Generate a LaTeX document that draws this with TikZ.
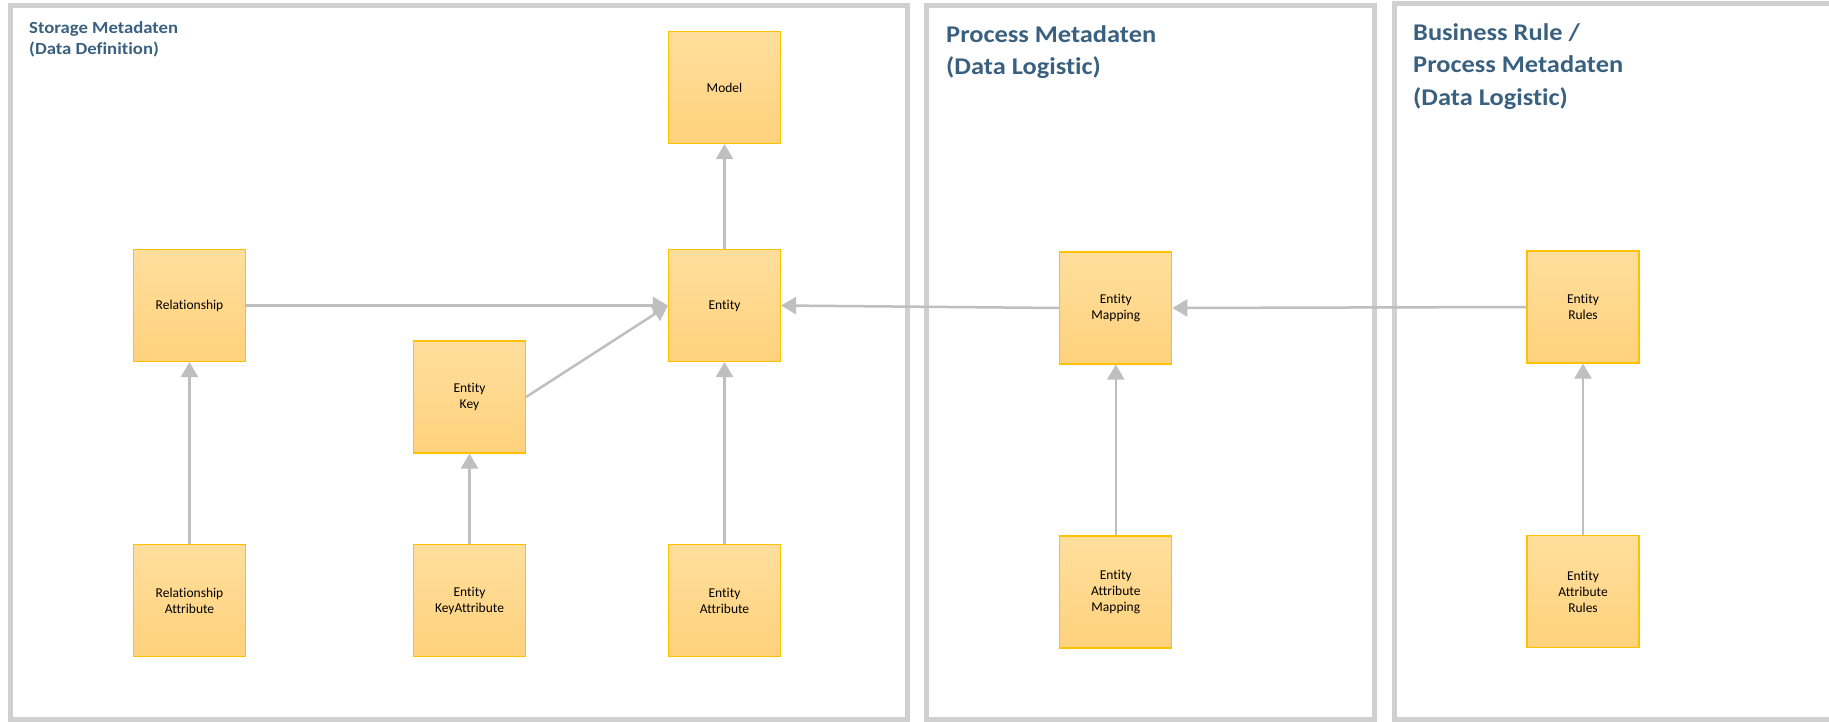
\documentclass[tikz,border=0pt]{standalone}
\usepackage{fontspec}
\setmainfont{Carlito}[Ligatures=NoCommon]
\newfontfamily\titlefont{Carlito}[FakeStretch=1.1, Ligatures=NoCommon]
\usetikzlibrary{arrows.meta, positioning}
\definecolor{framegray}{RGB}{208,208,208}
\definecolor{titleblue}{RGB}{58,96,128}
\definecolor{boxedge}{RGB}{255,192,0}
\definecolor{boxtop}{RGB}{255,222,157}
\definecolor{boxbottom}{RGB}{255,210,124}
\definecolor{arrowgray}{RGB}{191,191,191}

\begin{document}
\begin{tikzpicture}[x=1pt, y=-1pt,
		frame/.style={draw=framegray, line width=5pt},
		smalltitle/.style={anchor=north west, inner sep=0pt, align=left, text=titleblue,
			font=\titlefont\bfseries\fontsize{17}{20.5}\selectfont},
		bigtitle/.style={anchor=north west, inner sep=0pt, align=left, text=titleblue,
			font=\titlefont\bfseries\fontsize{24}{32.3}\selectfont},
		metabox/.style={draw=boxedge, line width=1.2pt, top color=boxtop, bottom color=boxbottom,
			minimum width=112pt, minimum height=112pt, inner sep=0pt, align=center,
			font=\fontsize{13.5}{16}\selectfont},
		link/.style={draw=arrowgray, line width=2.5pt, -{Triangle[length=15pt,width=17pt]}}]
		\useasboundingbox (0,0) rectangle (1829,722);

		% Storage Metadaten
		\draw[frame] (10,6) rectangle (907,719.5);
		\node[smalltitle] (storagetitle) at (29,21.5) {Storage Metadaten\\(Data Definition)};
		\node[metabox] (model) at (724.5,87.5) {Model};
		\node[metabox] (entity) at (724.5,305.5) {Entity};
		\node[metabox] (relationship) at (189.5,305.5) {Relationship};
		\node[metabox] (entitykey) at (469.5,397) {Entity\\Key};
		\node[metabox] (relattribute) at (189.5,600.5) {Relationship\\Attribute};
		\node[metabox] (keyattribute) at (469.5,600.5) {Entity\\KeyAttribute};
		\node[metabox] (entattribute) at (724.5,600.5) {Entity\\Attribute};
		\draw[link] (entity) -- (model);
		\draw[link] (relationship) -- (entity.west);
		\draw[link] (entitykey.east) -- (entity.west);
		\draw[link] (entattribute) -- (entity);
		\draw[link] (relattribute) -- (relationship);
		\draw[link] (keyattribute) -- (entitykey);

		% Process Metadaten
		\draw[frame] (926,6) rectangle (1374,719.5);
		\node[bigtitle] (processtitle) at (946,25) {Process Metadaten\\(Data Logistic)};
		\node[metabox] (entitymapping) at (1115.8,308) {Entity\\Mapping};
		\node[metabox] (attrmapping) at (1115.8,592) {Entity\\Attribute\\Mapping};
		\draw[link] (entitymapping.west) -- (entity.east);
		\draw[link] (attrmapping) -- (entitymapping);

		% Business Rule
		\draw[frame] (1394,4) rectangle (1845,719.5);
		\node[bigtitle] (ruletitle) at (1413,23.5) {Business Rule /\\Process Metadaten\\(Data Logistic)};
		\node[metabox] (entityrules) at (1583,307) {Entity\\Rules};
		\node[metabox] (attrrules) at (1583,591.5) {Entity\\Attribute\\Rules};
		\draw[link] (entityrules.west) -- (entitymapping.east);
		\draw[link] (attrrules) -- (entityrules);
	\end{tikzpicture}
\end{document}
